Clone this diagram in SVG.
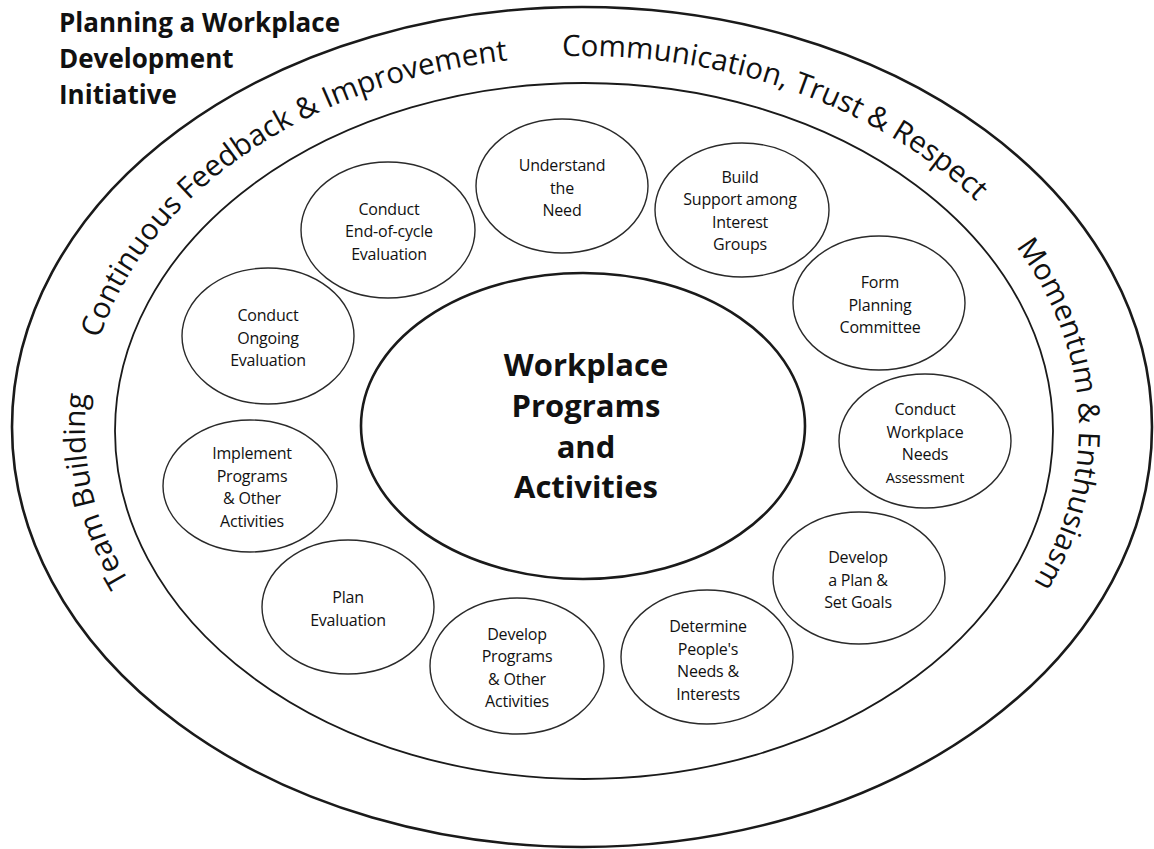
<svg xmlns="http://www.w3.org/2000/svg" xmlns:xlink="http://www.w3.org/1999/xlink" width="1154" height="849" viewBox="0 0 1154 849">
  <style>
    .ring { fill: none; stroke: #1a1a1a; }
    .outer { stroke-width: 2.6; }
    .inner { stroke-width: 1.8; }
    .hub { fill: #fff; stroke: #1a1a1a; stroke-width: 2.6; }
    .step { fill: #fff; stroke: #2a2a2a; stroke-width: 1.4; }
    .title { font-family: "Open Sans", "Liberation Sans", sans-serif; font-weight: 700; font-size: 26px; fill: #111; }
    .band { font-family: "Open Sans", "Liberation Sans", sans-serif; font-size: 29.5px; fill: #111; }
    .hubtxt { font-family: "Open Sans", "Liberation Sans", sans-serif; font-weight: 700; font-size: 31px; fill: #111; text-anchor: middle; }
    .label { font-family: "Open Sans", "Liberation Sans", sans-serif; font-size: 16px; fill: #111; text-anchor: middle; letter-spacing: -0.2px; }
  </style>
  <defs>
    <!-- clockwise guide for the ring captions, starting at the bottom -->
    <path id="bandPath" d="M 582 800 A 497 372 0 0 1 85 428 A 497 372 0 0 1 582 56 A 497 372 0 0 1 1079 428 A 497 372 0 0 1 582 800 Z"/>
  </defs>

  <rect width="1154" height="849" fill="#fff"/>

  <g id="title">
    <text class="title" x="59" y="32">Planning a Workplace</text>
    <text class="title" x="59" y="68">Development</text>
    <text class="title" x="59" y="104">Initiative</text>
  </g>

  <g id="rings">
    <ellipse class="ring outer" cx="582" cy="427" rx="570" ry="420"/>
    <ellipse class="ring inner" cx="584" cy="431" rx="469" ry="348"/>
  </g>

  <g id="ring-captions">
    <text class="band"><textPath xlink:href="#bandPath" href="#bandPath" startOffset="622" text-anchor="middle">Team Building</textPath></text>
    <text class="band"><textPath xlink:href="#bandPath" href="#bandPath" startOffset="1037" text-anchor="middle">Continuous Feedback &amp; Improvement</textPath></text>
    <text class="band"><textPath xlink:href="#bandPath" href="#bandPath" startOffset="1577" text-anchor="middle">Communication, Trust &amp; Respect</textPath></text>
    <text class="band"><textPath xlink:href="#bandPath" href="#bandPath" startOffset="2042" text-anchor="middle">Momentum &amp; Enthusiasm</textPath></text>
  </g>

  <g id="hub">
    <ellipse class="hub" cx="583" cy="426" rx="222" ry="153"/>
    <text class="hubtxt" x="586" y="376">Workplace</text>
    <text class="hubtxt" x="586" y="417">Programs</text>
    <text class="hubtxt" x="586" y="458">and</text>
    <text class="hubtxt" x="586" y="498">Activities</text>
  </g>

  <g id="connectors"></g>

  <g id="understand-need">
    <ellipse class="step" cx="562" cy="186" rx="86" ry="67"/>
    <text class="label" x="562" y="171">Understand</text>
    <text class="label" x="562" y="194">the</text>
    <text class="label" x="562" y="216">Need</text>
  </g>

  <g id="build-support">
    <ellipse class="step" cx="742" cy="210" rx="87" ry="67"/>
    <text class="label" x="740" y="183">Build</text>
    <text class="label" x="740" y="205">Support among</text>
    <text class="label" x="740" y="228">Interest</text>
    <text class="label" x="740" y="250">Groups</text>
  </g>

  <g id="form-committee">
    <ellipse class="step" cx="879" cy="303" rx="86" ry="67"/>
    <text class="label" x="880" y="288">Form</text>
    <text class="label" x="880" y="311">Planning</text>
    <text class="label" x="880" y="333">Committee</text>
  </g>

  <g id="needs-assessment">
    <ellipse class="step" cx="925" cy="441" rx="86" ry="67"/>
    <text class="label" x="925" y="415">Conduct</text>
    <text class="label" x="925" y="438">Workplace</text>
    <text class="label" x="925" y="460">Needs</text>
    <text class="label" x="925" y="483" style="font-size:14.5px">Assessment</text>
  </g>

  <g id="plan-goals">
    <ellipse class="step" cx="859" cy="578" rx="86" ry="66"/>
    <text class="label" x="858" y="563">Develop</text>
    <text class="label" x="858" y="586">a Plan &amp;</text>
    <text class="label" x="858" y="608">Set Goals</text>
  </g>

  <g id="people-needs">
    <ellipse class="step" cx="707" cy="657" rx="86" ry="67"/>
    <text class="label" x="708" y="632">Determine</text>
    <text class="label" x="708" y="655">People's</text>
    <text class="label" x="708" y="677">Needs &amp;</text>
    <text class="label" x="708" y="700">Interests</text>
  </g>

  <g id="develop-programs">
    <ellipse class="step" cx="517" cy="666" rx="87" ry="68"/>
    <text class="label" x="517" y="640">Develop</text>
    <text class="label" x="517" y="662">Programs</text>
    <text class="label" x="517" y="685">&amp; Other</text>
    <text class="label" x="517" y="707">Activities</text>
  </g>

  <g id="plan-evaluation">
    <ellipse class="step" cx="348" cy="607" rx="86" ry="67"/>
    <text class="label" x="348" y="603">Plan</text>
    <text class="label" x="348" y="626">Evaluation</text>
  </g>

  <g id="implement-programs">
    <ellipse class="step" cx="250" cy="486" rx="87" ry="66"/>
    <text class="label" x="252" y="459">Implement</text>
    <text class="label" x="252" y="482">Programs</text>
    <text class="label" x="252" y="504">&amp; Other</text>
    <text class="label" x="252" y="527">Activities</text>
  </g>

  <g id="ongoing-evaluation">
    <ellipse class="step" cx="268" cy="336" rx="86" ry="68"/>
    <text class="label" x="268" y="321">Conduct</text>
    <text class="label" x="268" y="344">Ongoing</text>
    <text class="label" x="268" y="366">Evaluation</text>
  </g>

  <g id="end-of-cycle">
    <ellipse class="step" cx="388" cy="230" rx="87" ry="68"/>
    <text class="label" x="389" y="215">Conduct</text>
    <text class="label" x="389" y="237">End-of-cycle</text>
    <text class="label" x="389" y="260">Evaluation</text>
  </g>
</svg>
